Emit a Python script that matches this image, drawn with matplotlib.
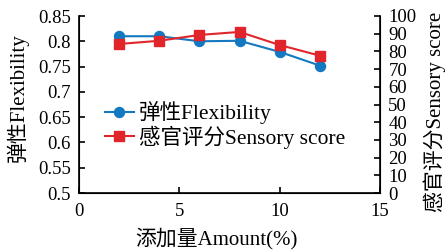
import matplotlib
matplotlib.use("Agg")
import matplotlib.pyplot as plt

# Donnees
amount = [2, 4, 6, 8, 10, 12]
flexibility = [0.810, 0.810, 0.800, 0.801, 0.779, 0.752]
sensory = [84.2, 86.0, 89.3, 91.0, 83.6, 77.6]

left_ticks = [0.5, 0.55, 0.6, 0.65, 0.7, 0.75, 0.8, 0.85]
right_ticks = [0, 10, 20, 30, 40, 50, 60, 70, 80, 90, 100]
x_ticks = [0, 5, 10, 15]

plt.rcParams["font.family"] = ["Liberation Serif", "Noto Sans CJK SC"]
plt.rcParams["font.size"] = 13.5

color_flex = "#1379c0"
color_sens = "#e0262a"
label_size = 15

fig = plt.figure(figsize=(4.45, 2.5), dpi=100)
ax1 = fig.add_axes([0.1775, 0.228, 0.6765, 0.708])

l1, = ax1.plot(amount, flexibility, color=color_flex, marker="o", markersize=7.2,
               linewidth=1.5, label="弹性Flexibility")
ax1.set_xlim(0, 15)
ax1.set_ylim(0.5, 0.85)
ax1.set_xticks(x_ticks)
ax1.set_yticks(left_ticks)
ax1.set_yticklabels([f"{v:g}" for v in left_ticks])
ax1.tick_params(direction="in", length=4, width=1.2)
ax1.tick_params(axis="y", pad=6)
ax1.tick_params(axis="x", pad=7)
ax1.set_ylabel("弹性Flexibility", fontsize=label_size, va="center")
ax1.yaxis.set_label_coords(-0.205, 0.54)
ax1.set_xlabel("添加量Amount(%)", fontsize=label_size)
ax1.xaxis.set_label_coords(0.455, -0.195)
ax1.spines["top"].set_visible(False)
for s in ["left", "bottom"]:
    ax1.spines[s].set_linewidth(1.2)

ax2 = ax1.twinx()
l2, = ax2.plot(amount, sensory, color=color_sens, marker="s", markersize=6.5,
               linewidth=1.5, label="感官评分Sensory score")
ax2.set_ylim(0, 100)
ax2.set_yticks(right_ticks)
ax2.tick_params(direction="in", length=4, width=1.2, pad=6)
ax2.set_ylabel("感官评分Sensory score", fontsize=label_size, va="center")
ax2.yaxis.set_label_coords(1.182, 0.46)
ax2.spines["top"].set_visible(False)
ax2.spines["right"].set_linewidth(1.2)

ax1.legend([l1, l2], [l1.get_label(), l2.get_label()], loc="center left",
           bbox_to_anchor=(0.085, 0.384), frameon=False, fontsize=15.5,
           handlelength=1.35, handletextpad=0.25, labelspacing=0.05,
           borderaxespad=0, borderpad=0)

plt.savefig("out.png", dpi=100)
